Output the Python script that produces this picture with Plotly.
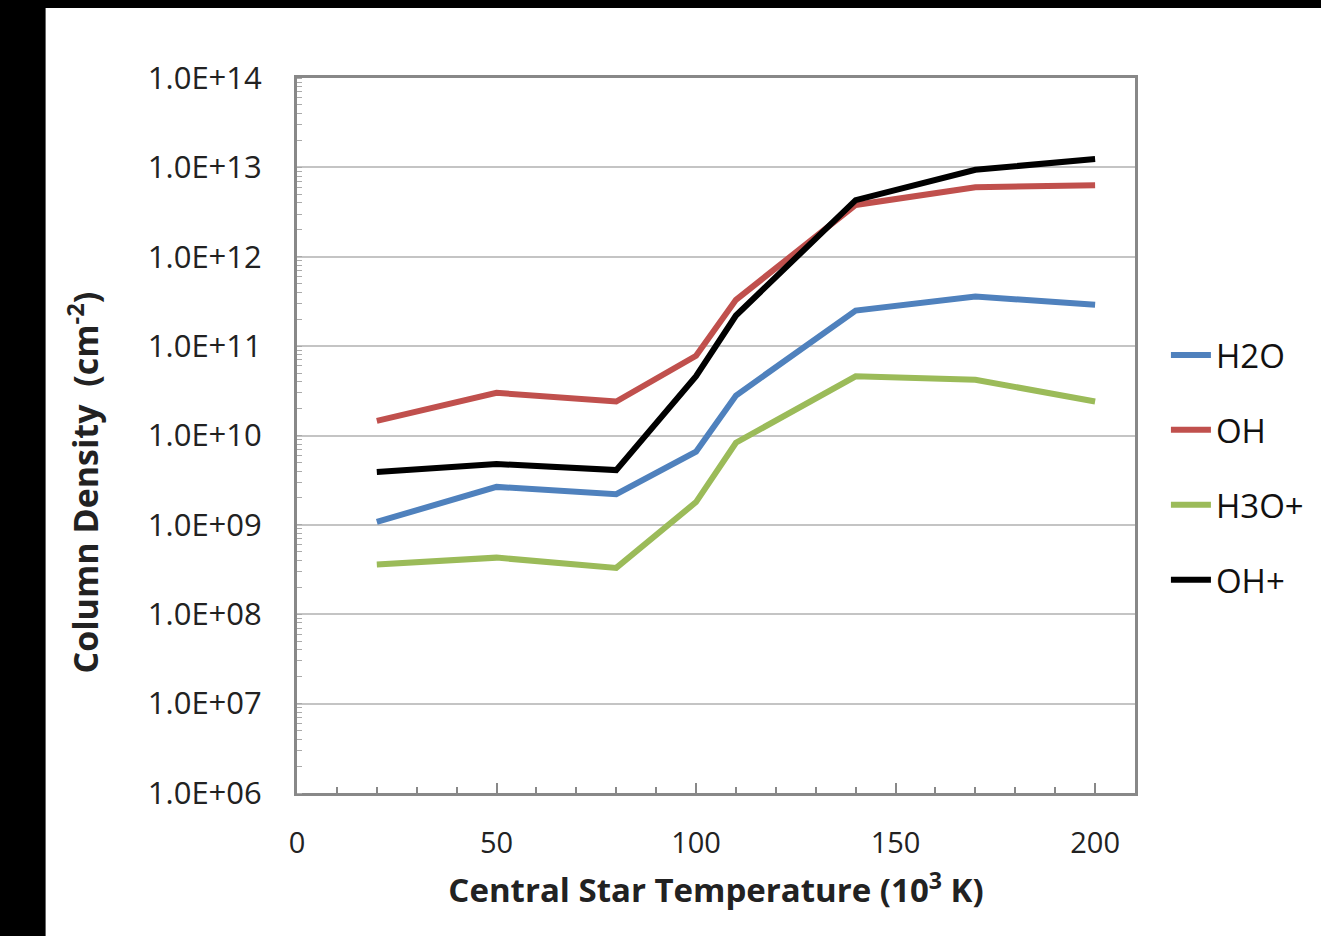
import plotly.graph_objects as go

temps = [20, 50, 80, 100, 110, 140, 170, 200]
h2o = [1.08e9, 2.66e9, 2.2e9, 6.6e9, 2.8e10, 2.5e11, 3.6e11, 2.9e11]
oh = [1.46e10, 3.0e10, 2.4e10, 7.8e10, 3.3e11, 3.8e12, 6.0e12, 6.3e12]
h3o = [3.6e8, 4.3e8, 3.3e8, 1.8e9, 8.3e9, 4.6e10, 4.2e10, 2.4e10]
ohp = [3.9e9, 4.8e9, 4.1e9, 4.6e10, 2.2e11, 4.3e12, 9.4e12, 1.24e13]

series_names = ["H2O", "OH", "H3O+", "OH+"]
series_values = [h2o, oh, h3o, ohp]
series_colors = ["#4F81BD", "#C0504D", "#9BBB59", "#000000"]

y_tickvals = [1e6, 1e7, 1e8, 1e9, 1e10, 1e11, 1e12, 1e13, 1e14]
y_ticktext = ["1.0E+06", "1.0E+07", "1.0E+08", "1.0E+09", "1.0E+10",
              "1.0E+11", "1.0E+12", "1.0E+13", "1.0E+14"]
x_tickvals = [0, 50, 100, 150, 200]

y_title = "<b>Column Density  (cm<sup>-2</sup>)</b>"
x_title = "<b>Central Star Temperature (10<sup>3</sup> K)</b>"

W, H = 1321, 936
L, R, T, B = 297, 1137, 78, 793
pw, ph = R - L, B - T

FONT = "Open Sans"

fig = go.Figure()
for i, (n, v, c) in enumerate(zip(series_names, series_values, series_colors)):
    fig.add_trace(go.Scatter(x=temps, y=v, mode="lines", name=n,
                             legendgroup=f"g{i}",
                             line=dict(color=c, width=6)))

def px2x(p):
    return (p - L) / pw

def px2y(p):
    return 1 - (p - T) / ph

shapes = [
    dict(type="rect", xref="paper", yref="paper",
         x0=px2x(-5), x1=px2x(45), y0=px2y(H + 5), y1=px2y(-5),
         fillcolor="black", line=dict(width=0), layer="above"),
    dict(type="rect", xref="paper", yref="paper",
         x0=px2x(-5), x1=px2x(W + 5), y0=px2y(8), y1=px2y(-5),
         fillcolor="black", line=dict(width=0), layer="above"),
]

fig.update_layout(
    width=W, height=H,
    margin=dict(l=L, r=W - R, t=T, b=H - B, pad=0),
    paper_bgcolor="white", plot_bgcolor="white",
    font=dict(family=FONT, color="#222222", size=29),
    shapes=shapes,
    showlegend=True,
    legend=dict(x=px2x(1168), xanchor="left", y=px2y(327), yanchor="top",
                font=dict(size=33, color="#111111"),
                tracegroupgap=29, itemwidth=40,
                bgcolor="rgba(0,0,0,0)"),
    annotations=[
        dict(text=y_title, xref="paper", yref="paper",
             x=px2x(82), y=px2y(483), xanchor="center", yanchor="middle",
             textangle=-90, showarrow=False,
             font=dict(size=34, color="#222222")),
    ],
    xaxis=dict(range=[0, 210], tickvals=x_tickvals,
               ticks="inside", ticklen=10, tickwidth=2, tickcolor="#888888",
               minor=dict(dtick=10, ticks="inside", ticklen=6, tickwidth=2,
                          tickcolor="#888888", showgrid=False),
               showline=True, linecolor="#888888", linewidth=3, mirror=True,
               showgrid=False, zeroline=False,
               ticklabelstandoff=22,
               tickfont=dict(size=29),
               title=dict(text=x_title,
                          font=dict(size=33, color="#222222"), standoff=20)),
    yaxis=dict(type="log", range=[6, 14], tickvals=y_tickvals, ticktext=y_ticktext,
               ticks="", showline=True, linecolor="#888888", linewidth=3, mirror=True,
               minor=dict(dtick="D1", ticks="inside", ticklen=5, tickwidth=1,
                          tickcolor="#aaaaaa", showgrid=False),
               showgrid=True, gridcolor="#c4c4c4", gridwidth=2, zeroline=False,
               ticklabelstandoff=26,
               tickfont=dict(size=31)),
)

fig.write_html("out.html")
